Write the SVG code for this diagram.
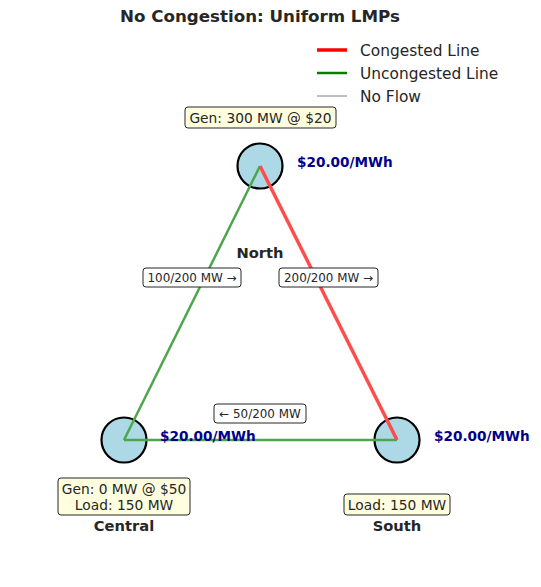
<svg xmlns="http://www.w3.org/2000/svg" width="541" height="587" viewBox="0 0 541 587">
<style>
text{font-family:"DejaVu Sans",sans-serif;fill:#262626}
.title{font-size:16.7px;font-weight:bold}
.name{font-size:14.7px;font-weight:bold}
.lmp{font-size:13.6px;font-weight:bold;fill:#00008b}
.info{font-size:13.8px}
.flow{font-size:11.9px}
.leg{font-size:15.4px}
.bus{fill:#add8e6;stroke:#000;stroke-width:2.2}
.box{fill:#ffffe0;stroke:#262626;stroke-width:1}
.fbox{fill:#fff;stroke:#262626;stroke-width:1}
</style>
<rect width="541" height="587" fill="#fff"/>
<text class="title" x="260" y="22" text-anchor="middle">No Congestion: Uniform LMPs</text>
<g id="legend">
<line x1="317" y1="50" x2="347" y2="50" stroke="#ff0000" stroke-width="3.5"/>
<line x1="317" y1="73" x2="347" y2="73" stroke="#008000" stroke-width="2.5"/>
<line x1="317" y1="96" x2="347" y2="96" stroke="#808080" stroke-width="1"/>
<text class="leg" x="360" y="56">Congested Line</text>
<text class="leg" x="360" y="79">Uncongested Line</text>
<text class="leg" x="360" y="102">No Flow</text>
</g>
<g id="node-north">
<circle class="bus" cx="260" cy="166" r="22.5"/>
<text class="name" x="260" y="258" text-anchor="middle">North</text>
<text class="lmp" x="297" y="167">$20.00/MWh</text>
<rect class="box" x="185" y="107" width="151" height="21" rx="3"/>
<text class="info" x="260.5" y="122.5" text-anchor="middle">Gen: 300 MW @ $20</text>
</g>
<g id="node-central">
<circle class="bus" cx="124" cy="440" r="22.5"/>
<text class="name" x="124" y="531" text-anchor="middle">Central</text>
<rect class="box" x="58" y="478" width="132" height="37" rx="3"/>
<text class="info" x="124" y="493.5" text-anchor="middle">Gen: 0 MW @ $50</text>
<text class="info" x="124" y="509.5" text-anchor="middle">Load: 150 MW</text>
</g>
<g id="node-south">
<circle class="bus" cx="397" cy="440" r="22.5"/>
<text class="name" x="397" y="531" text-anchor="middle">South</text>
<rect class="box" x="344" y="494" width="106" height="21" rx="3"/>
<text class="info" x="397" y="509.5" text-anchor="middle">Load: 150 MW</text>
</g>
<g id="connectors">
<line x1="260" y1="166" x2="124" y2="440" stroke="#4da64d" stroke-width="2.5"/>
<line x1="124" y1="440" x2="397" y2="440" stroke="#4da64d" stroke-width="2.5"/>
<line x1="260" y1="166" x2="397" y2="440" stroke="#ff4d4d" stroke-width="3.5"/>
</g>
<g id="lmp-overlays">
<text class="lmp" x="160" y="440.5">$20.00/MWh</text>
<text class="lmp" x="434" y="440.5">$20.00/MWh</text>
</g>
<g id="flow-labels">
<rect class="fbox" x="143" y="268" width="98" height="19" rx="3"/>
<text class="flow" x="192" y="281.5" text-anchor="middle">100/200 MW →</text>
<rect class="fbox" x="279" y="268" width="99" height="19" rx="3"/>
<text class="flow" x="328.5" y="281.5" text-anchor="middle">200/200 MW →</text>
<rect class="fbox" x="214" y="404" width="92" height="19" rx="3"/>
<text class="flow" x="260" y="417.5" text-anchor="middle">← 50/200 MW</text>
</g>
</svg>
